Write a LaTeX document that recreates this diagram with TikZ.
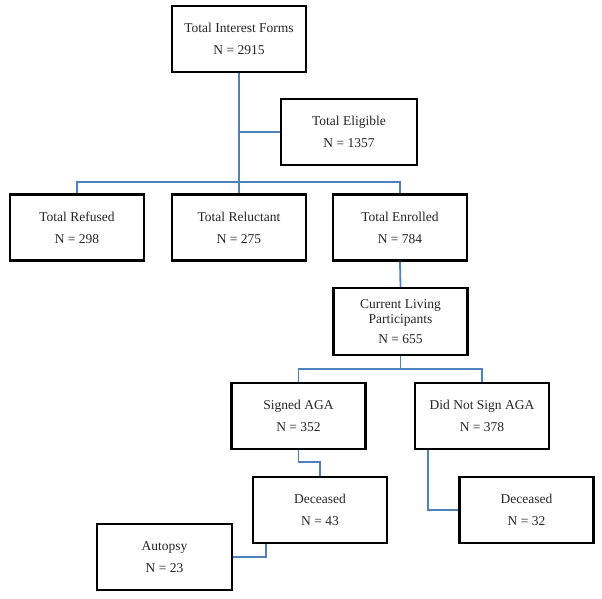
\documentclass[tikz,border=0pt]{standalone}
\usepackage{fontspec}
\setmainfont{Liberation Serif}
\definecolor{linkblue}{RGB}{79,129,189}
\begin{document}
\begin{tikzpicture}[x=1pt,y=-1pt,
  box/.style={draw=black, line width=2.2pt, fill=white, minimum width=134pt, minimum height=66pt,
    inner sep=0pt, align=center, font=\fontsize{13.5}{22}\selectfont, text=black!85},
  link/.style={draw=linkblue, line width=1.8pt}]
\useasboundingbox (0,0) rectangle (602,598);
% nodes
\node[box] (tif) at (239,39) {Total Interest Forms\\N = 2915};
\node[box, minimum width=136pt] (elig) at (349,132) {Total Eligible\\N = 1357};
\node[box] (ref) at (77,227.5) {Total Refused\\N = 298};
\node[box] (rel) at (239,227.5) {Total Reluctant\\N = 275};
\node[box] (enr) at (400,227.5) {Total Enrolled\\N = 784};
\node[box, minimum height=67pt] (clp) at (400.5,321.5) {Current Living\\[-7pt]Participants\\[-2pt]N = 655};
\node[box] (sig) at (298.5,416) {Signed AGA\\N = 352};
\node[box] (dns) at (482,416) {Did Not Sign AGA\\N = 378};
\node[box] (d43) at (320,510) {Deceased\\N = 43};
\node[box] (d32) at (526.5,510) {Deceased\\N = 32};
\node[box, minimum width=135pt] (aut) at (164.5,557) {Autopsy\\N = 23};
% helper coordinates
\coordinate (bar1) at (0,182);
\coordinate (bar2) at (0,369);
\coordinate (sigturn) at (0,462);
\coordinate (dnsx) at (428,0);
\coordinate (d43x) at (266,0);
% connectors
\draw[link] (tif.south) -- (rel.north);
\draw[link] (tif.south |- elig.west) -- (elig.west);
\draw[link] (ref.north) -- (ref.north |- bar1) -- (enr.north |- bar1) -- (enr.north);
\draw[link] (enr.south) -- (clp.north);
\draw[link] (clp.south) -- (clp.south |- bar2);
\draw[link] (sig.north) -- (sig.north |- bar2) -- (dns.north |- bar2) -- (dns.north);
\draw[link] (sig.south) -- (sig.south |- sigturn) -- (d43.north |- sigturn) -- (d43.north);
\draw[link] (dnsx |- dns.south) -- (dnsx |- d32.west) -- (d32.west);
\draw[link] (d43x |- d43.south) -- (d43x |- aut.east) -- (aut.east);
\end{tikzpicture}
\end{document}
